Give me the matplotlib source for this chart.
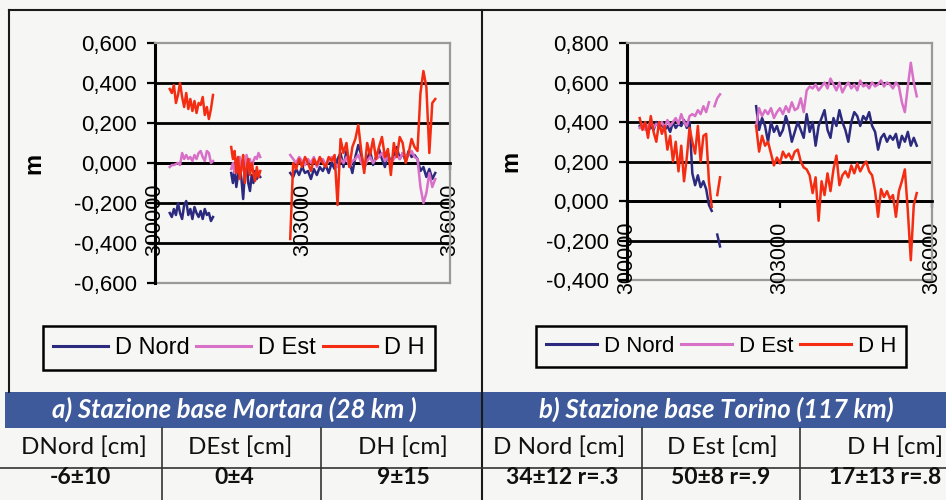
import numpy as np
import matplotlib
matplotlib.use("Agg")
import matplotlib.pyplot as plt
from matplotlib.patches import Rectangle
from matplotlib.ticker import FuncFormatter

nan = np.nan

# ---------------- data ----------------
SERIES = ["D Nord", "D Est", "D H"]
XTICKS = [300000, 303000, 306000]
YTICKS_L = [-0.6, -0.4, -0.2, 0.0, 0.2, 0.4, 0.6]
YTICKS_R = [-0.4, -0.2, 0.0, 0.2, 0.4, 0.6, 0.8]

# Mortara: epoch ranges of the three data blocks (s)
SEG_L = [(300300, 301180), (301550, 302140), (302750, 305700)]
DN_L1 = [-0.25, -0.27, -0.23, -0.26, -0.20, -0.25, -0.28, -0.21, -0.19, -0.26, -0.23,
         -0.28, -0.22, -0.25, -0.27, -0.24, -0.28, -0.23, -0.26, -0.25, -0.29, -0.27]
DE_L1 = [-0.02, -0.01, -0.01, -0.005, 0.0, -0.01, 0.05, 0.02, 0.04, 0.02, 0.03,
         0.01, 0.04, 0.02, 0.05, 0.06, 0.03, 0.01, 0.06, 0.05, 0.0, 0.01]
DH_L1 = [0.37, 0.35, 0.39, 0.30, 0.34, 0.40, 0.33, 0.28, 0.35, 0.27, 0.32,
         0.26, 0.31, 0.25, 0.30, 0.29, 0.33, 0.24, 0.28, 0.22, 0.27, 0.34]
DN_L2 = [-0.05, -0.10, -0.03, -0.12, -0.06, -0.02, -0.08, -0.18, -0.05,
         0.02, -0.10, -0.14, -0.06, -0.10, -0.04, -0.08, -0.06, -0.07]
DE_L2 = [-0.03, 0.0, -0.05, 0.02, -0.02, 0.03, -0.04, 0.01, -0.02,
         0.04, 0.0, 0.02, -0.03, 0.01, 0.03, 0.02, 0.05, 0.03]
DH_L2 = [0.08, 0.02, 0.06, -0.05, 0.03, -0.08, -0.02, 0.04, -0.10,
         -0.03, 0.02, -0.06, 0.0, -0.05, -0.09, -0.02, -0.07, -0.04]
DN_L3 = [-0.05, -0.07, -0.03, -0.06, -0.02, -0.05, -0.04, -0.08, -0.03, -0.06,
         -0.02, -0.04, -0.01, -0.05, 0.00, -0.03, 0.02, 0.05, -0.02, 0.06,
         0.01, -0.05, 0.03, 0.09, 0.04, -0.03, 0.02, 0.06, -0.01, 0.03,
         0.07, 0.02, -0.02, 0.05, 0.00, 0.04, 0.08, 0.02, 0.05, 0.01,
         0.06, 0.03, 0.04, 0.02, -0.04, -0.02, -0.07, -0.03, -0.08, -0.05]
DE_L3 = [0.04, 0.02, 0.00, 0.03, 0.01, -0.01, 0.02, 0.00, 0.03, -0.02,
         0.01, 0.02, -0.01, 0.01, 0.03, 0.00, -0.02, 0.02, 0.00, 0.03,
         -0.02, 0.01, 0.02, 0.04, 0.00, -0.02, 0.01, 0.03, 0.00, 0.02,
         0.03, 0.05, 0.01, 0.03, 0.00, 0.02, 0.04, 0.02, 0.05, 0.03,
         0.04, 0.06, 0.03, 0.02, -0.12, -0.20, -0.15, -0.05, -0.12, -0.08]
DH_L3 = [-0.38, 0.00, -0.03, 0.02, -0.02, 0.03, 0.00, -0.04, 0.02, -0.01,
         0.03, 0.00, -0.02, 0.03, 0.01, 0.04, -0.21, 0.12, 0.05, 0.10,
         -0.02, 0.08, 0.12, 0.19, 0.06, -0.05, 0.10, 0.04, 0.12, 0.02,
         0.08, 0.13, 0.03, 0.07, -0.06, 0.10, 0.03, 0.13, 0.10, 0.00,
         0.05, 0.12, 0.08, 0.06, 0.35, 0.46, 0.38, 0.05, 0.30, 0.32]

# Torino
SEG_R = [(300250, 301830), (302540, 305700)]
DN_R1 = [0.38, 0.37, 0.39, 0.35, 0.38, 0.36, 0.40, 0.37, 0.39, 0.36,
         0.38, 0.35, 0.40, 0.37, 0.39, 0.38, 0.41, 0.37, 0.40, 0.14,
         0.08, 0.13, 0.07, 0.10, 0.06, -0.02, -0.05, nan, -0.17, -0.23]
DE_R1 = [0.37, 0.39, 0.36, 0.38, 0.40, 0.37, 0.39, 0.38, 0.40, 0.37,
         0.41, 0.38, 0.40, 0.42, 0.39, 0.44, 0.40, 0.38, 0.43, 0.44,
         0.43, 0.46, 0.44, 0.48, 0.45, 0.50, nan, 0.48, 0.52, 0.54]
DH_R1 = [0.42, 0.36, 0.40, 0.32, 0.43, 0.35, 0.30, 0.40, 0.34, 0.38,
         0.26, 0.33, 0.20, 0.30, 0.15, 0.28, 0.10, 0.22, 0.37, 0.30,
         0.24, 0.38, 0.20, 0.33, 0.34, 0.10, -0.03, nan, 0.03, 0.12]
DN_R2 = [0.48, 0.36, 0.42, 0.38, 0.30, 0.40, 0.35, 0.38, 0.33, 0.36,
         0.43, 0.38, 0.30, 0.35, 0.40, 0.36, 0.32, 0.44, 0.35, 0.40,
         0.28, 0.38, 0.42, 0.46, 0.36, 0.32, 0.42, 0.38, 0.46, 0.40,
         0.36, 0.30, 0.40, 0.45, 0.43, 0.38, 0.43, 0.41, 0.45, 0.38,
         0.35, 0.26, 0.32, 0.34, 0.30, 0.33, 0.31, 0.34, 0.27, 0.33,
         0.30, 0.35, 0.28, 0.32, 0.28]
DE_R2 = [0.38, 0.47, 0.43, 0.46, 0.44, 0.47, 0.42, 0.45, 0.47, 0.44,
         0.48, 0.45, 0.50, 0.46, 0.47, 0.52, 0.45, 0.56, 0.58, 0.57,
         0.59, 0.56, 0.58, 0.60, 0.57, 0.62, 0.59, 0.56, 0.60, 0.55,
         0.58, 0.60, 0.57, 0.59, 0.56, 0.61, 0.58, 0.59, 0.57, 0.60,
         0.58, 0.59, 0.61, 0.58, 0.60, 0.59, 0.57, 0.60, 0.58, 0.50,
         0.45, 0.58, 0.70, 0.60, 0.53]
DH_R2 = [0.38, 0.25, 0.33, 0.28, 0.30, 0.24, 0.18, 0.22, 0.19, 0.25,
         0.22, 0.24, 0.21, 0.25, 0.26, 0.20, 0.17, 0.16, 0.13, 0.04,
         0.12, -0.10, 0.10, 0.03, 0.14, 0.05, 0.16, 0.23, 0.08, 0.13,
         0.15, 0.12, 0.18, 0.14, 0.19, 0.15, 0.18, 0.20, 0.15, 0.13,
         0.05, -0.08, 0.06, 0.02, 0.05, 0.01, 0.03, -0.08, 0.05, 0.10,
         0.16, -0.05, -0.30, -0.02, 0.04]

TITLE_L = "a) Stazione base Mortara (28 km )"
TITLE_R = "b) Stazione base Torino (117 km)"
HEAD_L = ["DNord [cm]", "DEst [cm]", "DH [cm]"]
HEAD_R = ["D Nord [cm]", "D Est [cm]", "D H [cm]"]
VAL_L = ["-6±10", "0±4", "9±15"]
VAL_R = ["34±12 r=.3", "50±8 r=.9", "17±13 r=.8"]

# ---------------- style ----------------
COLORS = ["#2c2a7e", "#d870c8", "#f42c12"]
PAPER = "#f6f6f4"
BAND = "#3e5a9b"
GREY = "#9a9a9a"
CHART_FONT = ["Liberation Sans", "DejaVu Sans"]
TABLE_FONT = ["Lato", "DejaVu Sans"]

W, H = 946, 500
fig = plt.figure(figsize=(W / 100, H / 100), dpi=100)
fig.patch.set_facecolor(PAPER)

bg = fig.add_axes([0, 0, 1, 1])
bg.set_xlim(0, W)
bg.set_ylim(H, 0)
bg.axis("off")


def px_axes(x0, y0, x1, y1):
    return fig.add_axes([x0 / W, 1 - y1 / H, (x1 - x0) / W, (y1 - y0) / H])


def join(segs, blocks):
    xs, ys = [], []
    for (a, b), vals in zip(segs, blocks):
        n = len(vals)
        xs.extend(list(np.linspace(a, b, n)) + [nan])
        ys.extend(list(vals) + [nan])
    return np.array(xs), np.array(ys)


def chart(box, yticks, segs, series, leg_center, leg_fs, ylab_x):
    ax = px_axes(*box)
    ax.set_facecolor("none")
    ax.set_xlim(300000, 306000)
    ax.set_ylim(yticks[0], yticks[-1])
    for v in yticks[1:-1]:
        ax.axhline(v, color="black", lw=2.0, zorder=1)
    ax.axhline(yticks[0], color=GREY, lw=1.6, zorder=1, clip_on=False)
    handles = []
    for name, blocks, c in zip(SERIES, series, COLORS):
        x, y = join(segs, blocks)
        ln, = ax.plot(x, y, color=c, lw=1.8, zorder=3, label=name)
        handles.append(ln)
    ax.spines["bottom"].set_position(("data", 0))
    ax.spines["bottom"].set_color("black")
    ax.spines["bottom"].set_linewidth(2.0)
    ax.spines["left"].set_color("black")
    ax.spines["left"].set_linewidth(2.2)
    for s in ("top", "right"):
        ax.spines[s].set_color(GREY)
        ax.spines[s].set_linewidth(1.6)
    ax.set_yticks(yticks)
    ax.yaxis.set_major_formatter(
        FuncFormatter(lambda v, p: f"{round(v, 3) + 0.0:.3f}".replace(".", ",")))
    ax.set_xticks(XTICKS)
    ax.set_xticklabels([str(t) for t in XTICKS], rotation=90, family=CHART_FONT)
    ax.tick_params(axis="y", length=6, width=1.6, pad=7, labelsize=16, colors="black")
    ax.tick_params(axis="x", length=5, width=1.6, pad=10, labelsize=15.5)
    for lab in ax.get_yticklabels():
        lab.set_family(CHART_FONT)
    ax.set_ylabel("m", fontsize=17, fontweight="bold", family=CHART_FONT)
    ax.yaxis.set_label_coords(ylab_x, 0.5)
    leg = ax.legend(handles, SERIES, loc="center",
                    bbox_to_anchor=(leg_center[0] / W, 1 - leg_center[1] / H),
                    bbox_transform=fig.transFigure, ncol=3,
                    prop={"family": CHART_FONT, "size": leg_fs},
                    frameon=True, fancybox=False, framealpha=1,
                    handlelength=2.3, handletextpad=0.3, columnspacing=0.3,
                    borderpad=0.45, borderaxespad=0)
    fr = leg.get_frame()
    fr.set_edgecolor("black")
    fr.set_linewidth(1.8)
    fr.set_facecolor(PAPER)
    for l in leg.get_lines():
        l.set_linewidth(2.2)
    return ax


chart((155, 43, 450, 283), YTICKS_L, SEG_L,
      [[DN_L1, DN_L2, DN_L3], [DE_L1, DE_L2, DE_L3], [DH_L1, DH_L2, DH_L3]],
      (239, 348), 17, -0.373)
chart((627, 43, 932, 280), YTICKS_R, SEG_R,
      [[DN_R1, DN_R2], [DE_R1, DE_R2], [DH_R1, DH_R2]],
      (721, 346), 16, -0.344)

# ---------------- table frame ----------------
lk = dict(color="#1a1a1a", lw=1.5)
bg.plot([9, W], [10, 10], **lk)
bg.plot([9, 9], [10, 392], **lk)
bg.add_patch(Rectangle((5, 392), W - 5, 36, facecolor=BAND, edgecolor="none"))
bg.plot([482, 482], [10, 500], **lk)
bg.plot([0, W], [468, 468], color="#333333", lw=1.2)
for xv in (162, 321, 642, 800):
    bg.plot([xv, xv], [428, 500], color="#333333", lw=1.2)

bg.text(234, 418, TITLE_L, color="white", fontsize=18.5, fontweight="bold",
        style="italic", family=TABLE_FONT, ha="center", va="baseline")
bg.text(716, 418, TITLE_R, color="white", fontsize=18.5, fontweight="bold",
        style="italic", family=TABLE_FONT, ha="center", va="baseline")

HEAD_X = [84, 240, 403, 559, 722, 895]
VAL_X = [80, 234, 403, 562, 721, 885]
for t, xv in zip(HEAD_L + HEAD_R, HEAD_X):
    bg.text(xv, 454, t, fontsize=17.5, family=TABLE_FONT, color="#111111",
            ha="center", va="baseline")
for t, xv in zip(VAL_L + VAL_R, VAL_X):
    bg.text(xv, 484, t, fontsize=16.5, fontweight="bold", family=TABLE_FONT,
            color="#111111", ha="center", va="baseline")

fig.savefig("out.png", dpi=100, facecolor=PAPER)
